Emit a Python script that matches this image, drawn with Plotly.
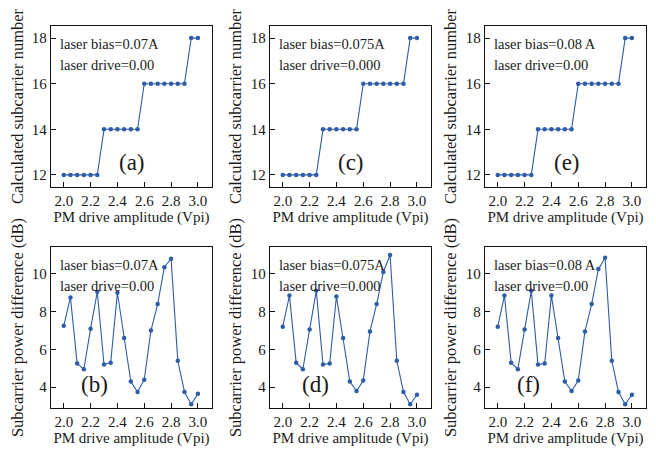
import plotly.graph_objects as go

x_vals = [2.0, 2.05, 2.1, 2.15, 2.2, 2.25, 2.3, 2.35, 2.4, 2.45, 2.5,
          2.55, 2.6, 2.65, 2.7, 2.75, 2.8, 2.85, 2.9, 2.95, 3.0]

num_a = [12, 12, 12, 12, 12, 12, 14, 14, 14, 14, 14, 14, 16, 16, 16, 16, 16, 16, 16, 18, 18]
num_c = [12, 12, 12, 12, 12, 12, 14, 14, 14, 14, 14, 14, 16, 16, 16, 16, 16, 16, 16, 18, 18]
num_e = [12, 12, 12, 12, 12, 12, 14, 14, 14, 14, 14, 14, 16, 16, 16, 16, 16, 16, 16, 18, 18]

pow_b = [7.25, 8.75, 5.25, 4.95, 7.1, 9.05, 5.2, 5.3, 9.0, 6.6, 4.3,
         3.75, 4.4, 7.0, 8.4, 10.35, 10.8, 5.4, 3.75, 3.1, 3.65]
pow_d = [7.2, 8.85, 5.3, 4.95, 7.05, 9.1, 5.2, 5.25, 8.8, 6.6, 4.3,
         3.8, 4.35, 6.95, 8.4, 10.1, 11.0, 5.4, 3.75, 3.1, 3.6]
pow_f = [7.2, 8.85, 5.3, 4.95, 7.05, 9.1, 5.2, 5.25, 8.85, 6.6, 4.3,
         3.8, 4.35, 6.95, 8.4, 10.25, 10.85, 5.4, 3.75, 3.1, 3.6]

bias_labels = ["laser bias=0.07A", "laser bias=0.075A", "laser bias=0.08 A"]
drive_labels = ["laser drive=0.00", "laser drive=0.000", "laser drive=0.00"]
top_panel_labels = ["(a)", "(c)", "(e)"]
bottom_panel_labels = ["(b)", "(d)", "(f)"]

x_ticks = [2.0, 2.2, 2.4, 2.6, 2.8, 3.0]
top_y_ticks = [12, 14, 16, 18]
bottom_y_ticks = [4, 6, 8, 10]

top_series = [num_a, num_c, num_e]
bottom_series = [pow_b, pow_d, pow_f]

# page body has an 8px default margin; compensate so the drawing lands where the reference has it
OFF = 8
W, H = 656 - OFF, 449 - OFF
col_px = [(51, 212), (270, 431), (485, 646)]
row_px = [(26, 187), (247, 408)]

COLOR = "#2e5ca8"
FONT = "Liberation Serif, Times New Roman, DejaVu Serif, serif"
TXT = "#1a1a1a"

fig = go.Figure()

def xdom(c):
    return [(col_px[c][0] - OFF) / W, (col_px[c][1] - OFF) / W]

def ydom(r):
    return [1 - (row_px[r][1] - OFF) / H, 1 - (row_px[r][0] - OFF) / H]

axis_common = dict(
    showgrid=False, zeroline=False, showline=True, linecolor="#111",
    linewidth=1.3, mirror=True, ticks="inside", ticklen=5, tickwidth=1,
    tickcolor="#111", tickfont=dict(family=FONT, size=15, color=TXT),
    automargin=False,
)

bottom_label_x = [0.27, 0.28, 0.27]
top_label_x = [0.50, 0.50, 0.51]

for r in range(2):
    for c in range(3):
        idx = r * 3 + c + 1
        xa = "x" if idx == 1 else f"x{idx}"
        ya = "y" if idx == 1 else f"y{idx}"
        xkey = "xaxis" if idx == 1 else f"xaxis{idx}"
        ykey = "yaxis" if idx == 1 else f"yaxis{idx}"
        yvals = top_series[c] if r == 0 else bottom_series[c]
        fig.add_trace(go.Scatter(
            x=x_vals, y=yvals, mode="lines+markers", xaxis=xa, yaxis=ya,
            line=dict(color=COLOR, width=1.1),
            marker=dict(color=COLOR, size=4.5), showlegend=False,
        ))
        fig.update_layout({
            xkey: dict(axis_common, domain=xdom(c), anchor=ya,
                       range=[1.905, 3.105], tickvals=x_ticks,
                       ticktext=[f"{v:.1f}" for v in x_ticks],
                       title=dict(text="PM drive amplitude (Vpi)", standoff=2,
                                  font=dict(family=FONT, size=15, color=TXT))),
            ykey: dict(axis_common, domain=ydom(r), anchor=xa,
                       range=[11.47, 18.53] if r == 0 else [2.9, 11.42],
                       tickvals=top_y_ticks if r == 0 else bottom_y_ticks,
                       title=dict(text="Calculated subcarrier number" if r == 0
                                  else "Subcarrier power difference (dB)",
                                  standoff=5,
                                  font=dict(family=FONT, size=16.5, color=TXT))),
        })
        xref = f"{xa} domain"
        yref = f"{ya} domain"
        fig.add_annotation(x=0.045, y=0.89, xref=xref, yref=yref, text=bias_labels[c],
                           showarrow=False, xanchor="left", yanchor="middle",
                           font=dict(family=FONT, size=14.5, color=TXT))
        fig.add_annotation(x=0.045, y=0.76, xref=xref, yref=yref, text=drive_labels[c],
                           showarrow=False, xanchor="left", yanchor="middle",
                           font=dict(family=FONT, size=14.5, color=TXT))
        lab = top_panel_labels[c] if r == 0 else bottom_panel_labels[c]
        lx = top_label_x[c] if r == 0 else bottom_label_x[c]
        fig.add_annotation(x=lx, y=0.155 if r == 0 else 0.145, xref=xref, yref=yref,
                           text=lab, showarrow=False, xanchor="center", yanchor="middle",
                           font=dict(family=FONT, size=23, color=TXT))

fig.update_layout(
    width=W, height=H, margin=dict(l=0, r=0, t=0, b=0, autoexpand=False),
    paper_bgcolor="white", plot_bgcolor="white",
    font=dict(family=FONT, color=TXT),
)

fig.write_html("out.html")
